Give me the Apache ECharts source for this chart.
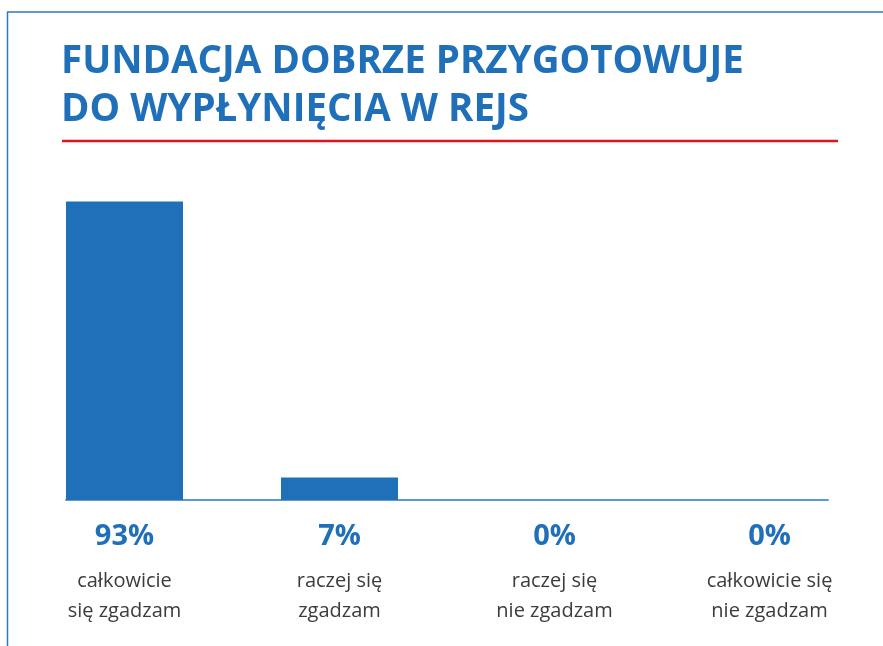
<!DOCTYPE html>
<html>
<head>
<meta charset="utf-8">
<script src="https://cdn.jsdelivr.net/npm/echarts@6/dist/echarts.min.js"></script>
<style>
  html, body { margin: 0; padding: 0; background: #fff; }
  #chart { width: 883px; height: 646px; }
</style>
</head>
<body>
<div id="chart"></div>
<script>
// dane z wykresu
const categories = ['całkowicie\nsię zgadzam', 'raczej się\nzgadzam', 'raczej się\nnie zgadzam', 'całkowicie się\nnie zgadzam']
const values = [93, 7, 0, 0]
const titleText = 'FUNDACJA DOBRZE PRZYGOTOWUJE\nDO WYPŁYNIĘCIA W REJS'

const blue = '#1f70b8'
const myChart = echarts.init(document.getElementById('chart'))

const option = {
  backgroundColor: '#fff',
  title: {
    text: titleText,
    left: 61,
    top: 38,
    padding: 0,
    textStyle: {
      fontFamily: 'Open Sans',
      fontWeight: 'bold',
      fontSize: 38.5,
      lineHeight: 48,
      color: blue
    }
  },
  // ramka i czerwona linia pod tytułem
  graphic: [
    { type: 'line', shape: { x1: 7, y1: 12, x2: 883, y2: 12 }, style: { stroke: '#2a78c2', lineWidth: 1.5 } },
    { type: 'line', shape: { x1: 7.5, y1: 12, x2: 7.5, y2: 646 }, style: { stroke: '#2a78c2', lineWidth: 1.5 } },
    { type: 'line', shape: { x1: 62, y1: 141, x2: 838, y2: 141 }, style: { stroke: '#e3101e', lineWidth: 2.5 } }
  ],
  grid: {
    left: 66,
    right: 55,
    top: 179,
    bottom: 146
  },
  xAxis: {
    type: 'value',
    min: -0.272,
    max: 3.272,
    splitLine: { show: false },
    axisTick: { show: false },
    axisLine: {
      show: true,
      lineStyle: { color: '#5a9ad6', width: 2 }
    },
    axisLabel: {
      customValues: [0, 1, 2, 3],
      margin: 8,
      formatter: function (v) {
        const i = Math.round(v)
        const name = categories[i].split('\n').map(s => '{n|' + s + '}').join('\n')
        return '{v|' + values[i] + '%}\n' + name
      },
      rich: {
        v: {
          fontFamily: 'Open Sans',
          fontWeight: 'bold',
          fontSize: 29,
          lineHeight: 58,
          color: blue
        },
        n: {
          fontFamily: 'Open Sans',
          fontSize: 20,
          lineHeight: 30,
          color: '#3c3c3c'
        }
      }
    }
  },
  yAxis: {
    type: 'value',
    min: 0,
    max: 100,
    show: false
  },
  series: [
    {
      type: 'bar',
      data: values.map((v, i) => [i, v]),
      barWidth: 117,
      itemStyle: { color: blue },
      z: 1
    }
  ]
}
myChart.setOption(option)
</script>
</body>
</html>
